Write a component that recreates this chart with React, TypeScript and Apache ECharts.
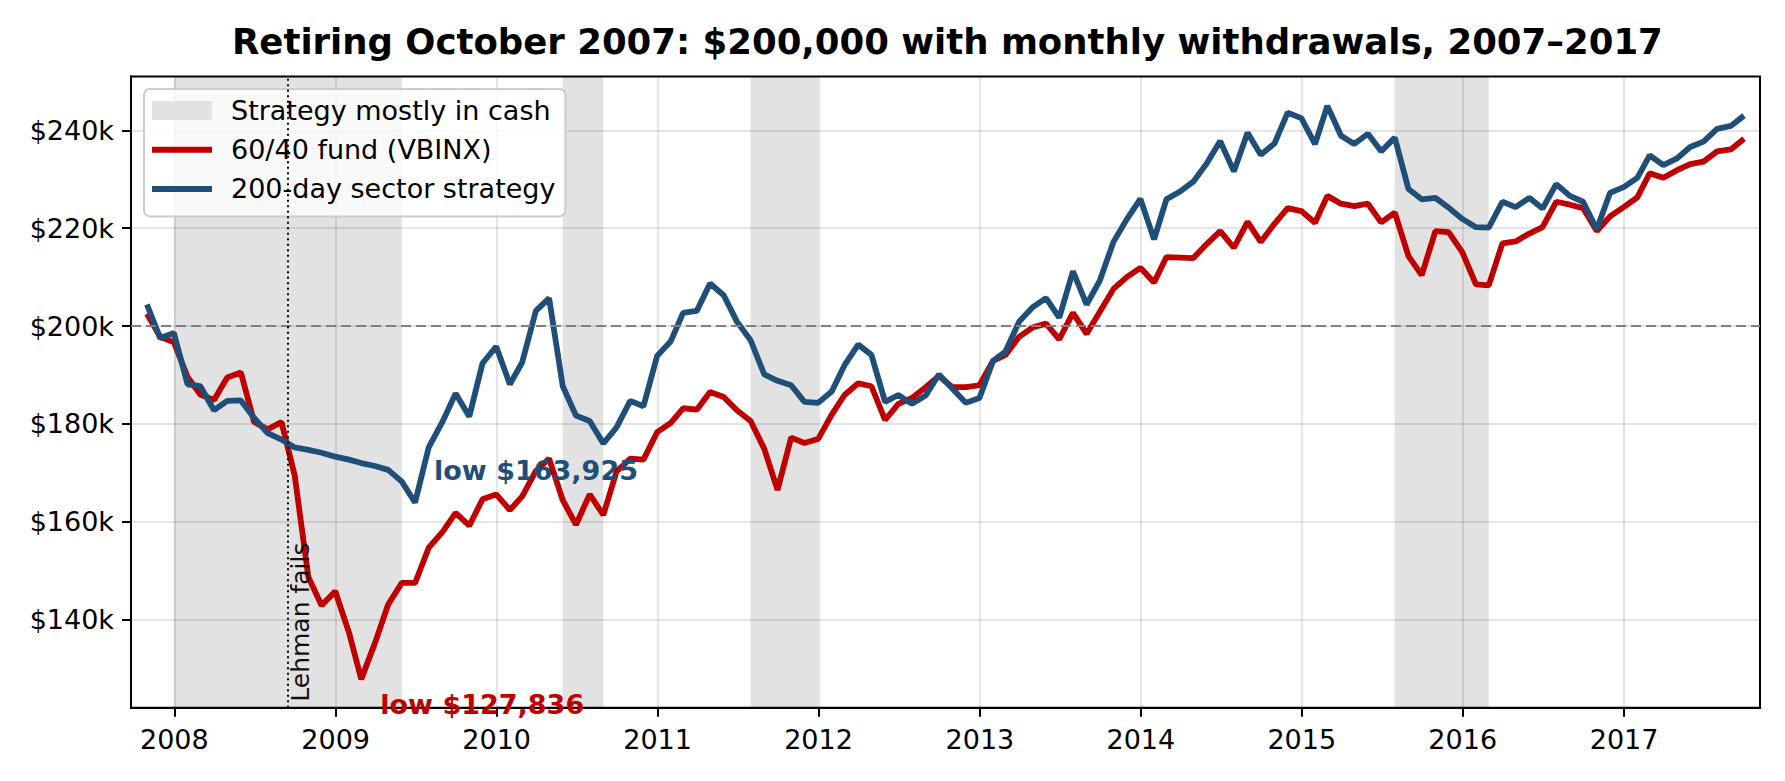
import { useEffect, useRef } from 'react';
import * as echarts from 'echarts';

const TITLE = 'Retiring October 2007: $200,000 with monthly withdrawals, 2007–2017';
const FIRST_MONTH = '2007-10';
const MONTH_COUNT = 120;

// Month-end balances, in $k
const balanced = [
  202.5, 197.8, 196.7, 189.6, 186.0, 184.9, 189.5, 190.5, 180.4, 178.9,
  180.4, 169.5, 148.7, 142.9, 145.8, 137.4, 127.836, 135.2, 143.1, 147.5,
  147.5, 154.7, 157.9, 161.8, 159.2, 164.6, 165.6, 162.4, 165.2, 170.4,
  172.9, 164.4, 159.4, 165.6, 161.4, 170.3, 172.9, 172.7, 178.3, 180.2,
  183.2, 182.9, 186.5, 185.5, 182.8, 180.6, 174.9, 166.5, 177.2, 176.1,
  176.9, 181.9, 185.9, 188.3, 187.7, 180.8, 184.1, 185.3, 187.5, 189.8,
  187.5, 187.5, 187.9, 192.9, 194.1, 197.8, 199.7, 200.5, 197.3, 202.7,
  198.4, 202.9, 207.6, 210.0, 211.9, 208.9, 214.1, 214.0, 213.9, 216.8,
  219.4, 216.0, 221.3, 217.2, 220.9, 224.1, 223.5, 221.1, 226.6, 225.0,
  224.5, 225.0, 221.2, 223.2, 214.3, 210.4, 219.4, 219.2, 215.1, 208.5,
  208.3, 216.9, 217.3, 218.9, 220.2, 225.4, 224.8, 224.1, 219.4, 222.4,
  224.3, 226.3, 231.2, 230.3, 231.8, 233.1, 233.6, 235.7, 236.1, 238.3,
];

const sector = [
  204.4, 197.5, 198.6, 188.1, 187.7, 182.8, 184.7, 184.8, 181.2, 178.1,
  176.8, 175.2, 174.7, 174.1, 173.3, 172.7, 172.0, 171.4, 170.6, 168.2,
  163.925, 175.2, 180.4, 186.2, 181.5, 192.4, 195.8, 188.1, 192.6, 203.1,
  205.7, 187.7, 181.7, 180.6, 176.0, 179.3, 184.7, 183.6, 193.9, 196.9,
  202.7, 203.1, 208.7, 206.3, 200.9, 197.1, 190.1, 188.8, 187.9, 184.5,
  184.3, 186.6, 192.0, 196.2, 194.1, 184.5, 185.9, 184.1, 185.8, 190.1,
  187.2, 184.3, 185.3, 192.9, 194.8, 200.9, 203.8, 205.7, 201.7, 211.2,
  204.4, 209.3, 217.2, 221.8, 226.0, 217.7, 225.9, 227.5, 229.5, 233.3,
  237.8, 231.6, 239.5, 235.0, 237.3, 243.6, 242.5, 237.2, 245.0, 238.9,
  237.2, 239.3, 235.7, 238.5, 228.0, 225.9, 226.2, 224.2, 221.9, 220.2,
  220.1, 225.4, 224.3, 226.2, 224.0, 229.0, 226.6, 225.4, 219.8, 227.2,
  228.4, 230.3, 234.9, 232.9, 234.2, 236.6, 237.7, 240.3, 240.9, 243.0,
];

// Months (start, end) in which the sector strategy sat mostly in cash
const cashPeriods: [string, string][] = [
  ['2007-12', '2009-05'],
  ['2010-05', '2010-08'],
  ['2011-07', '2011-12'],
  ['2015-07', '2016-02'],
];

const yTicks = [140, 160, 180, 200, 220, 240];
const xTickYears = [2008, 2009, 2010, 2011, 2012, 2013, 2014, 2015, 2016, 2017];
const LEHMAN_DATE = Date.UTC(2008, 8, 15);
const START_BALANCE = 200;
const Y_MIN = 122;
const Y_MAX = 251;

const RED = '#c00000';
const BLUE = '#1f4e79';
const SHADE = '#e2e2e2';
const FONT = 'DejaVu Sans';
const LINE_ICON = 'path://M0,0H60V6H0Z';

function monthEnd(ym: string): number {
  const [y, m] = ym.split('-').map(Number);
  return Date.UTC(y, m, 0);
}

function monthList(first: string, count: number): string[] {
  const [y0, m0] = first.split('-').map(Number);
  const out: string[] = [];
  for (let k = 0; k < count; k++) {
    const t = (m0 - 1) + k;
    const y = y0 + Math.floor(t / 12);
    const m = (t % 12) + 1;
    out.push(`${y}-${String(m).padStart(2, '0')}`);
  }
  return out;
}

const months = monthList(FIRST_MONTH, MONTH_COUNT);
const xs = months.map(monthEnd);

function lowPoint(values: number[]) {
  const v = Math.min(...values);
  const i = values.indexOf(v);
  return { coord: [xs[i], v], value: v };
}

function money(v: number) {
  return '$' + Math.round(v * 1000).toLocaleString('en-US');
}

export default function App() {
  const ref = useRef<HTMLDivElement>(null);

  useEffect(() => {
    if (!ref.current) return;
    const chart = echarts.init(ref.current, undefined, { renderer: 'svg' });

    const span = xs[xs.length - 1] - xs[0];
    const xMin = xs[0] - span * 0.01;
    const xMax = xs[xs.length - 1] + span * 0.01;
    const yearTicks = xTickYears.map((y) => Date.UTC(y, 0, 1));

    const lowLabel = (color: string, offset: number[]) => ({
      show: true,
      position: 'inside',
      align: 'left',
      verticalAlign: 'middle',
      offset,
      color,
      fontFamily: FONT,
      fontWeight: 'bold',
      fontSize: 27,
      formatter: (p: any) => 'low ' + money(p.value),
    });

    chart.setOption({
      animation: false,
      backgroundColor: '#ffffff',
      textStyle: { fontFamily: FONT },
      title: {
        text: TITLE,
        left: 232,
        top: 24,
        padding: 0,
        textStyle: { fontFamily: FONT, fontWeight: 'bold', fontSize: 35.5, color: '#000', lineHeight: 35 },
      },
      grid: {
        left: 131,
        right: 25,
        top: 76.5,
        bottom: 73.3,
        show: true,
        borderColor: '#000',
        borderWidth: 2,
        backgroundColor: 'transparent',
      },
      legend: {
        left: 144,
        top: 89,
        orient: 'vertical',
        selectedMode: false,
        padding: [8, 10, 14, 8],
        itemWidth: 60,
        itemHeight: 19,
        itemGap: 12.2,
        backgroundColor: 'rgba(255,255,255,0.8)',
        borderColor: '#cccccc',
        borderWidth: 2,
        borderRadius: 6,
        textStyle: { fontFamily: FONT, fontSize: 27, color: '#000', lineHeight: 27, padding: [0, 0, 0, 14] },
        data: [
          { name: 'Strategy mostly in cash', icon: 'rect', itemStyle: { color: SHADE } },
          { name: '60/40 fund (VBINX)', icon: LINE_ICON, itemStyle: { color: RED } },
          { name: '200-day sector strategy', icon: LINE_ICON, itemStyle: { color: BLUE } },
        ],
      },
      xAxis: {
        type: 'value',
        min: xMin,
        max: xMax,
        axisLine: { show: true, onZero: false, lineStyle: { color: '#000', width: 2 } },
        axisTick: {
          show: true,
          length: 9,
          lineStyle: { color: '#000', width: 2 },
          customValues: yearTicks,
        },
        axisLabel: {
          show: true,
          margin: 18,
          fontSize: 27,
          fontFamily: FONT,
          color: '#000',
          customValues: yearTicks,
          formatter: (v: number) => String(new Date(v).getUTCFullYear()),
        },
        splitLine: { show: true, lineStyle: { color: 'rgba(0,0,0,0.1)', width: 2 } },
      },
      yAxis: {
        type: 'value',
        min: Y_MIN,
        max: Y_MAX,
        axisLine: { show: true, onZero: false, lineStyle: { color: '#000', width: 2 } },
        axisTick: {
          show: true,
          length: 9,
          lineStyle: { color: '#000', width: 2 },
          customValues: yTicks,
        },
        axisLabel: {
          show: true,
          margin: 17,
          fontSize: 27,
          fontFamily: FONT,
          color: '#000',
          customValues: yTicks,
          formatter: (v: number) => `$${v}k`,
        },
        splitLine: { show: true, lineStyle: { color: 'rgba(0,0,0,0.1)', width: 2 } },
      },
      series: [
        {
          name: 'Strategy mostly in cash',
          type: 'line',
          data: [],
          z: 1,
          itemStyle: { color: SHADE },
          markArea: {
            silent: true,
            itemStyle: { color: 'rgba(0,0,0,0.113)' },
            data: cashPeriods.map(([a, b]) => [{ xAxis: monthEnd(a) }, { xAxis: monthEnd(b) }]),
          },
          markLine: {
            silent: true,
            symbol: ['none', 'none'],
            data: [
              {
                yAxis: START_BALANCE,
                lineStyle: { color: '#808080', type: [10, 5], width: 2 },
                label: { show: false },
              },
              {
                xAxis: LEHMAN_DATE,
                lineStyle: { color: '#000', type: [2, 3.5], width: 2 },
                label: {
                  show: true,
                  formatter: 'Lehman fails',
                  position: 'insideStartBottom',
                  distance: [6, 0],
                  fontFamily: FONT,
                  fontSize: 25,
                  color: '#111',
                },
              },
            ],
          },
        },
        {
          name: '60/40 fund (VBINX)',
          type: 'line',
          data: xs.map((x, i) => [x, balanced[i]]),
          symbol: 'none',
          z: 3,
          color: RED,
          lineStyle: { color: RED, width: 5.8 },
          markPoint: {
            silent: true,
            symbol: 'circle',
            symbolSize: 1,
            itemStyle: { color: 'transparent' },
            label: lowLabel(RED, [19, 25]),
            data: [lowPoint(balanced)],
          },
        },
        {
          name: '200-day sector strategy',
          type: 'line',
          data: xs.map((x, i) => [x, sector[i]]),
          symbol: 'none',
          z: 3,
          color: BLUE,
          lineStyle: { color: BLUE, width: 5.8 },
          markPoint: {
            silent: true,
            symbol: 'circle',
            symbolSize: 1,
            itemStyle: { color: 'transparent' },
            label: lowLabel(BLUE, [19, -32]),
            data: [lowPoint(sector)],
          },
        },
      ],
    });

    return () => chart.dispose();
  }, []);

  return (
    <div
      ref={ref}
      style={{ position: 'fixed', left: 0, top: 0, width: 1785, height: 781, background: '#fff' }}
    />
  );
}
